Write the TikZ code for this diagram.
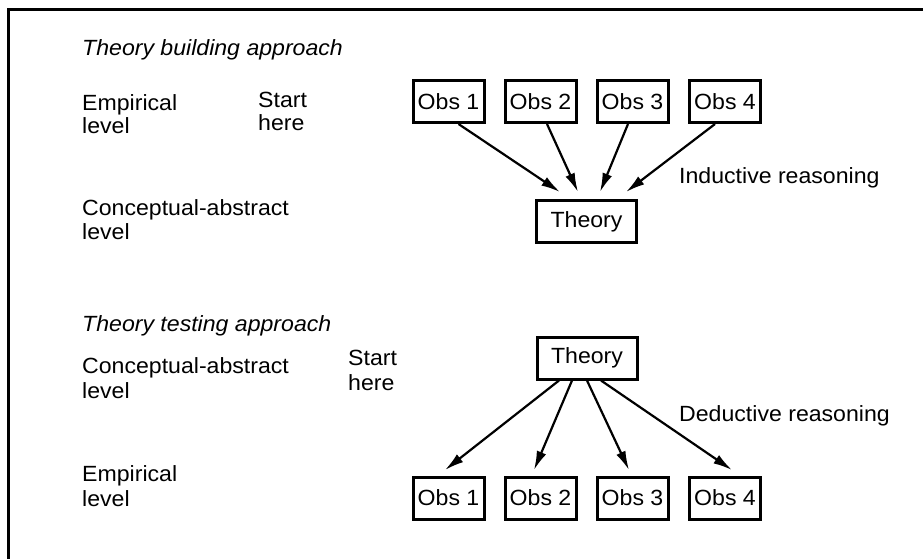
\documentclass[tikz,border=0pt]{standalone}
\usepackage{fontspec}
\setmainfont{Liberation Sans}[FakeStretch=1.05]
\usetikzlibrary{arrows.meta}

\tikzset{
  lbl/.style={anchor=base west, inner sep=0pt, font=\fontsize{22}{26}\selectfont},
  heading/.style={lbl, font=\fontsize{22}{26}\selectfont\itshape},
  obsbox/.style={draw, line width=3pt, minimum width=71pt, minimum height=42pt,
                 inner sep=0pt, font=\fontsize{22}{26}\selectfont},
  theorybox/.style={obsbox, minimum width=100pt},
  reason/.style={-{Latex[length=19pt,width=10pt]}, line width=2.2pt},
}

\begin{document}
\begin{tikzpicture}[x=1pt,y=-1pt]
  \clip (0,0) rectangle (923,558);
  \fill[white] (0,0) rectangle (923,558);
  % outer frame (only its top and left sides fall inside the page)
  \draw[line width=3pt] (8,9.5) rectangle (960,600);

  % ---- theory building ----
  \node[heading] (hb) at (82,55) {Theory building approach};
  \node[lbl] (emp1a) at (82,110) {Empirical};
  \node[lbl] (emp1b) at (82,133) {level};
  \node[lbl] (st1a) at (258,107) {Start};
  \node[lbl] (st1b) at (258,130) {here};
  \node[lbl] (con1a) at (82,215) {Conceptual-abstract};
  \node[lbl] (con1b) at (82,239) {level};

  \node[obsbox] (o1) at (448.5,101.5) {Obs 1};
  \node[obsbox] (o2) at (540.5,101.5) {Obs 2};
  \node[obsbox] (o3) at (632.5,101.5) {Obs 3};
  \node[obsbox] (o4) at (725,101.5) {Obs 4};
  \node[theorybox] (t1) at (586.5,221.5) {Theory};
  \node[lbl] (ind) at (679,183) {Inductive reasoning};

  \draw[reason] ([xshift=10pt]o1.south) -- ([xshift=-26.5pt,yshift=7pt]t1.north);
  \draw[reason] ([xshift=6.5pt]o2.south) -- ([xshift=-8.5pt,yshift=7pt]t1.north);
  \draw[reason] ([xshift=-4.5pt]o3.south) -- ([xshift=13.5pt,yshift=7pt]t1.north);
  \draw[reason] ([xshift=-10pt]o4.south) -- ([xshift=39.5pt,yshift=7pt]t1.north);

  % ---- theory testing ----
  \node[heading] (ht) at (82,331) {Theory testing approach};
  \node[lbl] (con2a) at (82,373) {Conceptual-abstract};
  \node[lbl] (con2b) at (82,398) {level};
  \node[lbl] (st2a) at (348,365) {Start};
  \node[lbl] (st2b) at (348,390) {here};
  \node[lbl] (emp2a) at (82,481) {Empirical};
  \node[lbl] (emp2b) at (82,506) {level};

  \node[theorybox] (t2) at (587,358) {Theory};
  \node[obsbox] (p1) at (448.5,498) {Obs 1};
  \node[obsbox] (p2) at (540.5,498) {Obs 2};
  \node[obsbox] (p3) at (632.5,498) {Obs 3};
  \node[obsbox] (p4) at (725,498) {Obs 4};
  \node[lbl] (ded) at (679,421) {Deductive reasoning};

  \draw[reason] ([xshift=-28pt]t2.south) -- ([xshift=-3.5pt,yshift=5.5pt]p1.north);
  \draw[reason] ([xshift=-15pt]t2.south) -- ([xshift=-6.5pt,yshift=5.5pt]p2.north);
  \draw[reason] (t2.south) -- ([xshift=-3.5pt,yshift=5.5pt]p3.north);
  \draw[reason] ([xshift=14pt]t2.south) -- ([xshift=7pt,yshift=5.5pt]p4.north);
\end{tikzpicture}
\end{document}
